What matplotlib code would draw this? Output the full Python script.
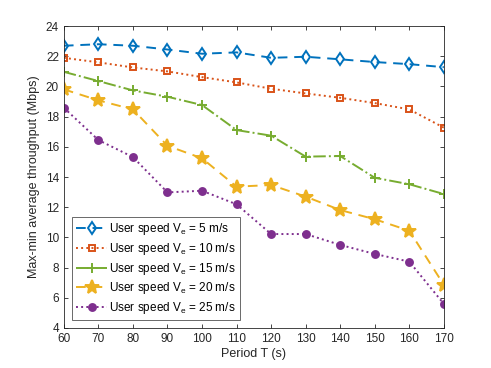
import matplotlib.pyplot as plt

plt.rcParams['font.family'] = ['Liberation Sans', 'DejaVu Sans']
plt.rcParams['mathtext.fontset'] = 'custom'
plt.rcParams['mathtext.rm'] = 'Liberation Sans'
plt.rcParams['mathtext.it'] = 'Liberation Sans'

period = [60, 70, 80, 90, 100, 110, 120, 130, 140, 150, 160, 170]
speeds = [5, 10, 15, 20, 25]

v5 = [22.7, 22.8, 22.7, 22.45, 22.17, 22.26, 21.9, 21.97, 21.8, 21.62, 21.48, 21.28]
v10 = [21.9, 21.6, 21.26, 21.0, 20.62, 20.27, 19.85, 19.54, 19.25, 18.9, 18.48, 17.27]
v15 = [20.97, 20.36, 19.74, 19.32, 18.77, 17.11, 16.74, 15.35, 15.39, 13.95, 13.52, 12.87]
v20 = [19.81, 19.08, 18.48, 16.07, 15.24, 13.36, 13.47, 12.7, 11.81, 11.2, 10.44, 6.85]
v25 = [18.59, 16.45, 15.32, 12.98, 13.09, 12.19, 10.22, 10.22, 9.5, 8.9, 8.39, 5.59]

series = [v5, v10, v15, v20, v25]
colors = ['#0072BD', '#D95319', '#77AC30', '#EDB120', '#7E2F8E']
styles = [(0, (5, 3.5)), ':', '-.', (0, (5, 3.5)), ':']
markers = ['d', 's', '+', '*', 'o']
msizes = [6, 5, 7, 10, 5]
filled = [False, False, False, True, True]

fig = plt.figure(figsize=(4.91, 3.68), dpi=100)
ax = fig.add_axes([0.130, 0.109, 0.774, 0.820])

for y, s, c, ls, m, ms, f in zip(series, speeds, colors, styles, markers, msizes, filled):
    ax.plot(period, y, color=c, linestyle=ls, linewidth=1.4, marker=m,
            markersize=ms, markeredgewidth=1.4,
            markerfacecolor=c if f else 'none', markeredgecolor=c,
            label='User speed V$_\\mathregular{e}$ = %d m/s' % s)

ax.set_xlim(60, 170)
ax.set_ylim(4, 24)
ax.set_xticks(range(60, 171, 10))
ax.set_yticks(range(4, 25, 2))
ax.tick_params(direction='in', top=True, right=True, labelsize=8.5,
               colors='#262626', length=3, width=0.6)
for sp in ax.spines.values():
    sp.set_color('#262626')
    sp.set_linewidth(0.6)
ax.set_xlabel('Period T (s)', fontsize=9, color='#262626', labelpad=2)
ax.set_ylabel('Max-min average throughput (Mbps)', fontsize=9, color='#262626', labelpad=4)

leg = ax.legend(loc='lower left', bbox_to_anchor=(0.022, 0.025), fontsize=8.5,
                frameon=True, fancybox=False, edgecolor='#262626',
                handlelength=2.6, handletextpad=0.2, borderpad=0.35,
                labelspacing=0.32, borderaxespad=0)
leg.get_frame().set_linewidth(0.6)

fig.savefig('out.png', dpi=100)
